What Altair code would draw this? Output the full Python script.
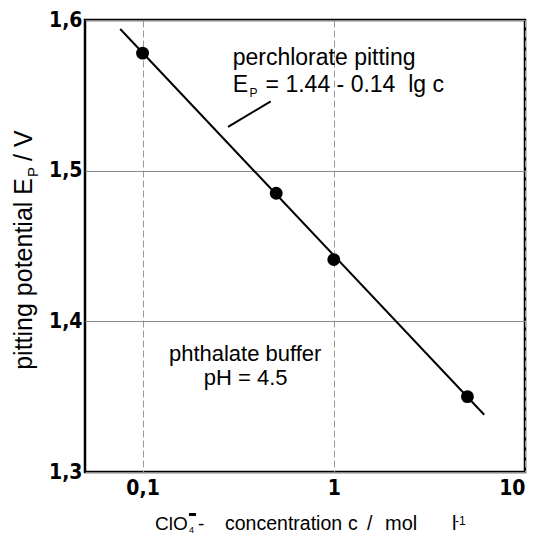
import altair as alt
import pandas as pd

# measured data (ClO4- concentration in mol/l, pitting potential in V)
conc = [0.1, 0.5, 1.0, 5.0]
ep = [1.578, 1.485, 1.441, 1.350]
fit_c = [0.0764, 6.12]
fit_ep = [1.594, 1.338]
leader_c = [0.280, 0.468]
leader_ep = [1.529, 1.546]
x_ticks = [0.1, 1, 10]
y_ticks = [1.3, 1.4, 1.5, 1.6]

W, H = 440, 452
FONT = "Liberation Sans"
TICKFONT = "Liberation Sans Narrow, DejaVu Sans Condensed, Liberation Sans"

xs = alt.Scale(type="log", domain=[0.05, 10], nice=False)
ys = alt.Scale(domain=[1.3, 1.6], nice=False, zero=False)

pts = pd.DataFrame({"c": conc, "ep": ep})
fit = pd.DataFrame({"c": fit_c, "ep": fit_ep})
leader = pd.DataFrame({"c": leader_c, "ep": leader_ep})

x_axis = alt.Axis(values=x_ticks, format="~g", labelExpr="replace(datum.label, '.', ',')",
                  title=None, grid=True, gridColor="#9a9a9a", gridWidth=1, gridDash=[7, 3],
                  ticks=False, domain=False, labelFont=TICKFONT, labelFontSize=21,
                  labelFontWeight="bold", labelPadding=5, labelColor="black")
y_axis = alt.Axis(values=y_ticks, format=".1f", labelExpr="replace(datum.label, '.', ',')",
                  title=None, grid=True, gridColor="#8a8a8a", gridWidth=1.2,
                  ticks=False, domain=False, labelFont=TICKFONT, labelFontSize=21,
                  labelFontWeight="bold", labelPadding=3, labelColor="black")

line = alt.Chart(fit).mark_line(color="black", strokeWidth=2).encode(
    x=alt.X("c:Q", scale=xs, axis=x_axis),
    y=alt.Y("ep:Q", scale=ys, axis=y_axis),
)
points = alt.Chart(pts).mark_point(filled=True, color="black", opacity=1, size=165).encode(
    x=alt.X("c:Q", scale=xs), y=alt.Y("ep:Q", scale=ys)
)
lead = alt.Chart(leader).mark_line(color="black", strokeWidth=2).encode(
    x=alt.X("c:Q", scale=xs), y=alt.Y("ep:Q", scale=ys)
)

one = pd.DataFrame({"k": [0]})


def data_text(txt, c, e, size=22, align="left"):
    return alt.Chart(one).mark_text(align=align, baseline="alphabetic", font=FONT,
                                    fontSize=size, color="black").encode(
        x=alt.X("cx:Q", scale=xs), y=alt.Y("ey:Q", scale=ys), text=alt.value(txt)
    ).transform_calculate(cx=str(c), ey=str(e))


def px_text(txt, x, y, size=20, align="left", angle=0):
    return alt.Chart(one).mark_text(align=align, baseline="alphabetic", font=FONT,
                                    fontSize=size, color="black", angle=angle).encode(
        x=alt.value(x), y=alt.value(y), text=alt.value(txt)
    )


annos = [
    data_text("perchlorate pitting", 0.296, 1.5701, size=23),
    data_text("E", 0.296, 1.5522, size=23),
    data_text("P", 0.362, 1.5490, size=12),
    data_text("= 1.44 - 0.14\u00a0 lg c", 0.440, 1.5522, size=23),
    data_text("phthalate buffer", 0.344, 1.3735, align="center"),
    data_text("pH = 4.5", 0.346, 1.3575, align="center"),
]

titles = [
    # x axis title
    px_text("ClO", 70, 510, 19),
    px_text("4", 104, 513, 9),
    px_text("-", 113, 510, 19),
    px_text("concentration", 140, 510, 19.5),
    px_text("c", 263, 510, 19.5),
    px_text("/", 282, 510, 19.5),
    px_text("mol", 300, 510, 20),
    px_text("l", 367, 510, 20),
    px_text("-1", 370, 505, 12),
    # y axis title
    px_text("pitting potential E", -53, 158, 25, align="right", angle=270),
    px_text("P", -47, 157, 15, align="left", angle=270),
    px_text("/ V", -53, 141, 25, align="left", angle=270),
]

minus_bar = alt.Chart(one).mark_rule(color="black", strokeWidth=3).encode(
    x=alt.value(104), x2=alt.value(111), y=alt.value(494.5)
)

chart = alt.layer(line, lead, points, *annos, *titles, minus_bar).properties(
    width=W, height=H,
    autosize=alt.AutoSizeParams(type="none"),
    padding={"left": 77, "top": 12, "right": 7, "bottom": 66},
    background="white",
).configure_view(stroke="black", strokeWidth=2.5)

chart.save("out.html", embed_options={"renderer": "svg", "actions": False})
